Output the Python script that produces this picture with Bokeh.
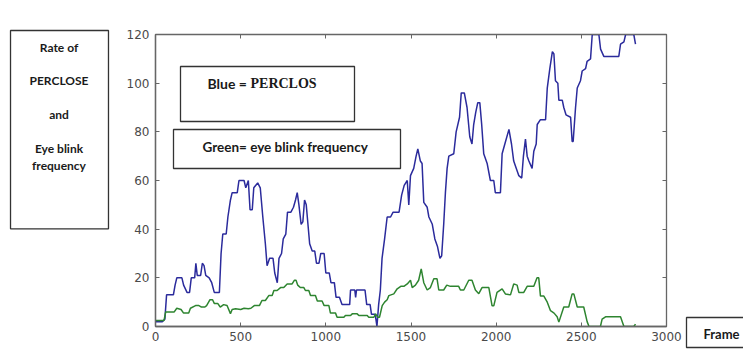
from bokeh.plotting import figure
from bokeh.models import Range1d, FixedTicker, LinearAxis, Label, BoxAnnotation
from bokeh.embed import file_html
from bokeh.resources import INLINE

x_ticks = [0, 500, 1000, 1500, 2000, 2500, 3000]
y_ticks = [0, 20, 40, 60, 80, 100, 120]

blue_frame = [0, 40, 55, 65, 105, 115, 125, 155, 165, 185, 200, 210, 230, 237, 245, 265, 275, 285, 295, 315,
              330, 345, 375, 385, 395, 415, 425, 440, 450, 480, 490, 520, 530, 545, 555, 568, 577, 600, 615, 630,
              645, 655, 670, 690, 700, 715, 725, 740, 750, 765, 775, 795, 810, 822, 832, 842, 855, 865, 875, 885,
              895, 905, 920, 935, 945, 960, 970, 990, 1000, 1020, 1030, 1050, 1060, 1080, 1095, 1140, 1145, 1170,
              1175, 1180, 1230, 1240, 1260, 1268, 1290, 1300, 1310, 1320, 1330, 1345, 1360, 1380, 1395, 1430,
              1445, 1460, 1478, 1487, 1497, 1516, 1530, 1540, 1555, 1565, 1575, 1595, 1605, 1625, 1640, 1655,
              1670, 1680, 1692, 1702, 1712, 1722, 1751, 1765, 1785, 1795, 1813, 1829, 1845, 1858, 1868, 1880,
              1892, 1904, 1915, 1927, 1947, 1966, 1986, 1995, 2025, 2035, 2055, 2075, 2090, 2103, 2133, 2150,
              2160, 2172, 2182, 2192, 2211, 2221, 2235, 2241, 2260, 2290, 2300, 2315, 2330, 2339, 2348, 2362,
              2368, 2388, 2397, 2410, 2437, 2446, 2452, 2466, 2476, 2495, 2505, 2525, 2534, 2554, 2564, 2603,
              2613, 2632, 2720, 2730, 2750, 2760, 2808, 2818]
blue_rate = [2, 2, 3, 13, 13, 17, 20, 20, 17, 14, 14, 20, 20, 26, 21, 21, 26, 25, 21, 20,
             18, 14, 14, 30, 38, 38, 45, 52, 55, 55, 60, 60, 57, 60, 48, 48, 57, 59, 57, 45,
             34, 25, 28, 28, 22, 18, 28, 30, 36, 38, 47, 47, 49, 52, 55, 50, 42, 43, 52, 50,
             42, 34, 31, 31, 26, 26, 30, 30, 22, 22, 18, 18, 12, 12, 9, 9, 15, 15,
             12, 15, 15, 9, 9, 5, 5, 0, 9, 15, 28, 36, 45, 45, 47, 47,
             54, 58, 60, 50, 62, 65, 70, 73, 68, 67, 51, 49, 45, 42, 36, 33,
             28, 29, 42, 55, 65, 70, 71, 80, 86, 96, 96, 90, 78, 75, 83, 88,
             92, 92, 83, 71, 67, 60, 60, 55, 55, 71, 76, 81, 75, 68, 62, 61,
             70, 77, 70, 68, 65, 72, 75, 83, 85, 85, 98, 106, 113, 112, 101, 100,
             93, 93, 90, 87, 86, 76, 76, 90, 98, 101, 105, 106, 109, 110, 120, 120,
             114, 111, 111, 116, 117, 120, 120, 116]

green_frame = [0, 50, 60, 110, 125, 150, 165, 195, 205, 235, 255, 270, 290, 300, 320, 335, 345, 365, 380, 400,
               420, 440, 450, 470, 500, 520, 545, 560, 580, 610, 625, 645, 665, 685, 695, 714, 734, 753, 773, 802,
               815, 825, 835, 850, 871, 880, 900, 910, 939, 950, 978, 990, 1018, 1027, 1057, 1066, 1106, 1115,
               1145, 1155, 1184, 1194, 1243, 1252, 1282, 1292, 1305, 1315, 1331, 1345, 1360, 1370, 1399, 1419,
               1440, 1458, 1478, 1497, 1507, 1526, 1545, 1560, 1575, 1595, 1614, 1634, 1653, 1663, 1692, 1710,
               1731, 1780, 1790, 1810, 1839, 1858, 1878, 1898, 1917, 1937, 1957, 1976, 1986, 2005, 2035, 2054,
               2084, 2103, 2123, 2133, 2162, 2182, 2221, 2240, 2250, 2260, 2280, 2300, 2319, 2340, 2358, 2368,
               2397, 2426, 2446, 2456, 2476, 2514, 2534, 2545, 2612, 2622, 2642, 2730, 2750, 2808, 2818]
green_rate = [2.5, 2.5, 6, 6, 7.5, 7, 5.5, 5.5, 7.5, 8.6, 8.6, 8, 8, 8.6, 11, 11, 9.5, 9.5, 8, 9,
              8.6, 5.3, 7, 7.3, 7, 7.5, 7.3, 7.5, 8.6, 8.6, 10.7, 10.7, 12.7, 12.7, 14.8, 14.8, 16, 16, 17.5, 17.5,
              19, 19, 17, 16, 16, 14.8, 14.8, 12.7, 12.7, 10.5, 10.5, 8.6, 8.6, 5.5, 5.5, 3.8, 3.8, 4.5,
              4.5, 5.2, 5.2, 4.5, 4.5, 3.8, 3.8, 5.2, 3.8, 3.8, 8.6, 10, 11, 12.7, 13.4, 15.5,
              16.5, 16.5, 17.5, 19, 16, 17, 19, 23.7, 18, 15, 16, 19.6, 19.6, 15, 15, 17,
              16.5, 16.5, 15, 15, 19, 19, 15, 13.5, 16, 16, 16, 8.5, 8.5, 14, 15.5, 13.4,
              13, 17.5, 17, 14, 14, 16.5, 16.5, 20, 20, 12.5, 12.5, 10, 6.5, 5.5, 4, 1.8,
              8, 8, 13.4, 13.4, 8, 8, 2, 0, 0, 3, 4, 4, 0, 0, 1]

W, H = 743, 364
FL, FR, FT, FB = 155, 666, 34, 326  # frame edges in page pixels


def dx(px):
    return (px - FL) * 3000.0 / (FR - FL)


def dy(py):
    return (FB - py) * 120.0 / (FB - FT)


p = figure(width=W, height=H, output_backend="svg", toolbar_location=None,
           x_range=Range1d(0, 3000), y_range=Range1d(0, 120),
           min_border_left=FL, min_border_right=W - FR, min_border_top=FT, min_border_bottom=H - FB,
           background_fill_color="white", border_fill_color="white")
p.grid.visible = False
p.outline_line_color = "#666666"
p.outline_line_width = 1.3

for ax in (p.xaxis[0], p.yaxis[0]):
    ax.major_tick_in = 4
    ax.major_tick_out = 0
    ax.minor_tick_line_color = None
    ax.axis_line_color = "#666666"
    ax.axis_line_width = 1.3
    ax.major_tick_line_color = "#666666"
    ax.major_label_text_color = "#4a4a4a"
    ax.major_label_text_font = "DejaVu Sans"
    ax.major_label_text_font_size = "12px"
p.xaxis[0].ticker = FixedTicker(ticks=x_ticks)
p.yaxis[0].ticker = FixedTicker(ticks=y_ticks)
p.xaxis[0].major_label_standoff = 5
p.yaxis[0].major_label_standoff = 6

top_ax = LinearAxis(ticker=FixedTicker(ticks=x_ticks), major_tick_in=4, major_tick_out=0,
                    minor_tick_line_color=None, axis_line_color="#666666",
                    major_tick_line_color="#666666", major_label_text_color=None)
right_ax = LinearAxis(ticker=FixedTicker(ticks=y_ticks), major_tick_in=4, major_tick_out=0,
                      minor_tick_line_color=None, axis_line_color="#666666",
                      major_tick_line_color="#666666", major_label_text_color=None)
p.add_layout(top_ax, "above")
p.add_layout(right_ax, "right")

p.line(blue_frame, blue_rate, line_color="#2b2b9c", line_width=1.5)
p.line(green_frame, green_rate, line_color="#2e8530", line_width=1.5)

# legend-like boxes inside the frame
for l, r, t, b in [(180, 354, 66, 121), (173, 400, 129, 168)]:
    p.add_layout(BoxAnnotation(left=dx(l), right=dx(r), top=dy(t), bottom=dy(b),
                               fill_color="white", fill_alpha=1.0,
                               line_color="#333333", line_alpha=1.0, line_width=1.3))


def lab(text, px, py, font="Lato", size="13px", align="left"):
    p.add_layout(Label(x=dx(px), y=dy(py), text=text,
                       text_font=font, text_font_size=size, text_font_style="bold",
                       text_align=align, text_baseline="middle", text_color="#1a1a1a"))


lab("Blue =", 207, 83, size="14px")
lab("PERCLOS", 250, 83, font="Liberation Serif", size="14px")
lab("Green= eye blink frequency", 202, 146, size="13.5px")

# y-axis caption box (left margin); anchor is the box's top edge
y_caption = Label(x=dx(59), y=dy(30), text="Rate of\n\nPERCLOSE\n\nand\n\nEye blink\nfrequency",
                  text_font="Lato", text_font_size="12px", text_font_style="bold",
                  text_align="center", text_baseline="top", text_color="#1a1a1a",
                  text_line_height=1.127,
                  border_line_color="#333333", border_line_width=1.3,
                  background_fill_color="white",
                  padding=dict(left=19, right=20, top=9, bottom=56))
p.add_layout(y_caption, "left")

# x-axis caption box (bottom right); anchor is the box's left edge
x_caption = Label(x=dx(686), y=dy(332), text="Frame",
                  text_font="Lato", text_font_size="13px", text_font_style="bold",
                  text_align="left", text_baseline="middle", text_color="#1a1a1a",
                  border_line_color="#333333", border_line_width=1.3,
                  background_fill_color="white",
                  padding=dict(left=17, right=12, top=8, bottom=6))
p.add_layout(x_caption, "right")

open("out.html", "w").write(file_html(p, INLINE))
